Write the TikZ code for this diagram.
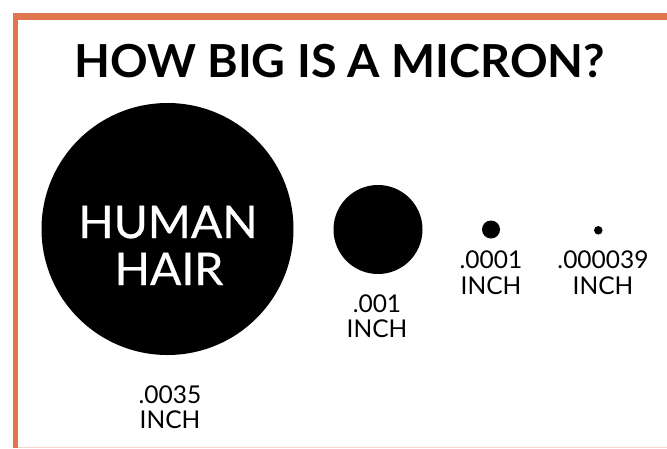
\documentclass[tikz,border=0pt]{standalone}
\usepackage{fontspec}
\setmainfont{Lato}
\definecolor{frameorange}{RGB}{224,118,80}
\begin{document}
\begin{tikzpicture}[x=1pt,y=-1pt,
  dot/.style={circle,fill=black,inner sep=0pt,draw=none},
  lbl/.style={anchor=base,inner sep=0pt,font=\fontsize{24.5}{25}\selectfont},
  bar/.style={fill=frameorange,draw=none}]
\useasboundingbox (0,0) rectangle (667,448);
\fill[white] (0,0) rectangle (667,448);
% frame
\fill[bar] (12.5,12.5) rectangle (667,20);
\fill[bar] (12.5,12.5) rectangle (18,448);
\fill[frameorange!30] (18,447) rectangle (667,448);
% title
\node[anchor=base,inner sep=0pt,font=\fontsize{45.5}{50}\selectfont\bfseries,xscale=1.025] (title) at (339.5,77) {HOW BIG IS A MICRON?};
% circles
\node[dot,minimum size=252pt] (hair) at (167.5,229) {};
\node[dot,minimum size=89pt] (mil) at (378,229.5) {};
\node[dot,minimum size=18pt] (tenth) at (491,229.5) {};
\node[dot,minimum size=8.5pt] (micron) at (598.3,230.3) {};
% hair text
\node[anchor=base,inner sep=0pt,text=white,font=\fontsize{45}{47}\selectfont\addfontfeatures{FakeBold=0.6},xscale=1.03] (human) at (168,238) {HUMAN};
\node[anchor=base,inner sep=0pt,text=white,font=\fontsize{45}{47}\selectfont\addfontfeatures{FakeBold=0.6},xscale=1.03] (hairtxt) at (169,285) {HAIR};
% labels
\node[lbl] (l1a) at (170,403) {.0035};
\node[lbl] (l1b) at (170,428) {INCH};
\node[lbl] (l2a) at (377,312) {.001};
\node[lbl] (l2b) at (377,337) {INCH};
\node[lbl] (l3a) at (491,268) {.0001};
\node[lbl] (l3b) at (491,294) {INCH};
\node[lbl] (l4a) at (603,268) {.000039};
\node[lbl] (l4b) at (603,294) {INCH};
\end{tikzpicture}
\end{document}
